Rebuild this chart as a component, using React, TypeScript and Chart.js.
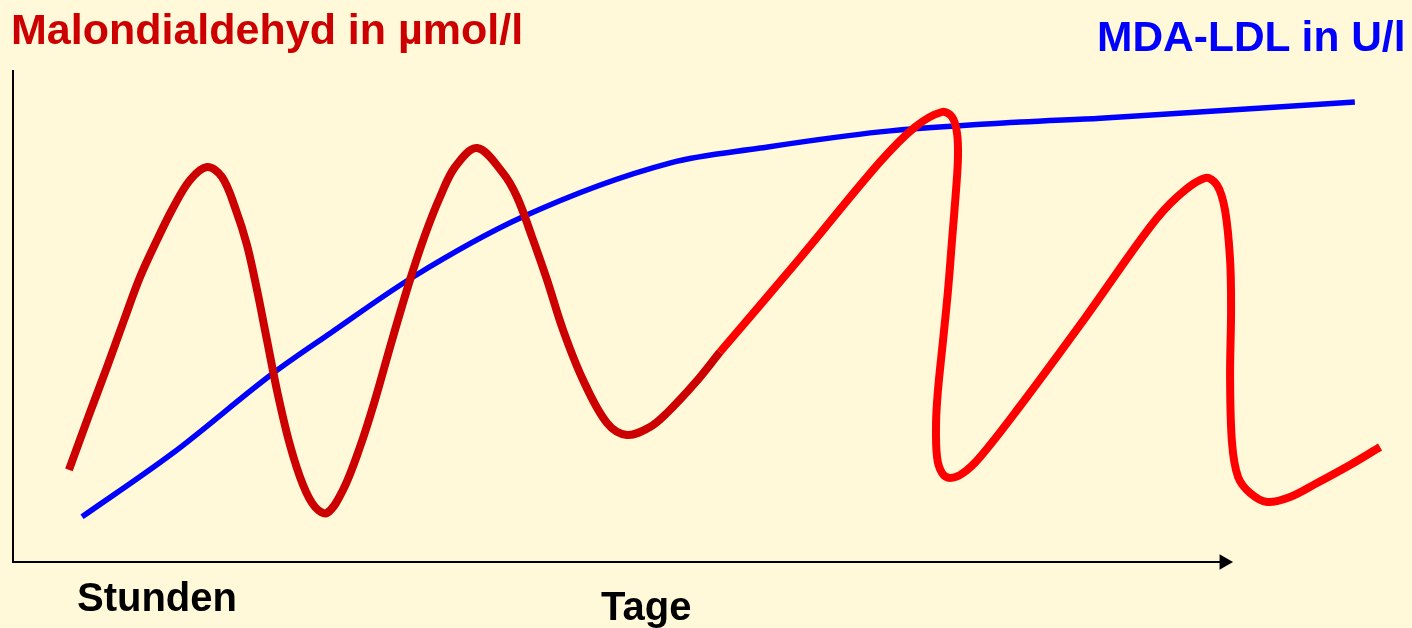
import React, { useEffect, useRef } from "react";
import { Chart, registerables } from "chart.js";

Chart.register(...registerables);

// ---- data (arbitrary units: x = time 0..100 along the axis, y = level 0..100) ----
const hoursX = [4.62, 6.19, 7.76, 9.17, 10.49, 11.89, 13.21, 14.62, 16.02, 17.26, 18.41, 19.32, 20.15, 20.97, 21.88, 22.87, 23.95, 24.94, 25.93, 27.25, 28.65, 29.89, 31.3, 32.78, 34.02, 35.26, 36.5, 38.32, 40.46, 41.62, 42.86, 44.1, 45.42, 47.07, 49.05, 50.7, 52.6, 54.0, 56.32, 58.38];
const hoursY = [18.74, 29.33, 39.71, 49.29, 58.04, 65.58, 72.1, 77.8, 80.45, 78.41, 71.69, 64.56, 55.4, 45.21, 34.01, 23.83, 15.68, 11.2, 9.98, 14.66, 23.42, 32.99, 45.21, 57.43, 66.6, 74.34, 80.45, 84.32, 79.23, 74.34, 66.19, 57.43, 47.25, 37.07, 28.31, 25.87, 27.49, 30.35, 36.46, 42.77];

const daysX = [58.38, 64.99, 71.59, 74.48, 76.71, 77.54, 77.95, 78.03, 77.87, 77.54, 77.21, 76.8, 76.38, 76.22, 76.3, 76.71, 77.37, 78.45, 79.85, 82.91, 88.52, 93.89, 96.12, 98.43, 99.42, 100.08, 100.5, 100.58, 100.5, 100.66, 101.16, 102.15, 103.55, 105.45, 107.68, 110.4, 112.88];
const daysY = [42.77, 61.91, 81.47, 88.59, 91.65, 90.63, 87.37, 82.48, 75.76, 65.58, 55.4, 45.21, 35.03, 28.31, 21.38, 18.13, 17.11, 18.13, 21.38, 30.96, 49.69, 68.23, 74.34, 78.21, 76.78, 71.69, 61.51, 51.32, 37.68, 24.24, 17.31, 14.05, 12.22, 13.24, 16.09, 19.76, 23.42];

const mdaLdlX = [5.7, 13.2, 21.5, 26.2, 33.0, 42.1, 54.3, 61.7, 71.6, 83.2, 89.8, 110.8];
const mdaLdlY = [9.2, 22.2, 38.5, 46.6, 58.0, 70.3, 81.3, 84.3, 87.6, 89.6, 90.4, 93.7];

const axisX = [0, 100];
const axisY = [0, 100];

const titleLeft = "Malondialdehyd in µmol/l";
const titleRight = "MDA-LDL in U/l";
const labelHours = "Stunden";
const labelDays = "Tage";

// ---- styling ----
const BG = "#FFF9DA";
const DARK_RED = "#CC0000";
const RED = "#FF0000";
const BLUE = "#0000FF";
const FONT = '"Liberation Sans", Arial, Helvetica, sans-serif';

const X_MIN = -1.0735;
const X_MAX = 115.52;
const Y_MIN = -13.44;
const Y_MAX = 114.46;

const pts = (xs: number[], ys: number[]) => xs.map((x, i) => ({ x, y: ys[i] }));

export default function App() {
  const ref = useRef<HTMLCanvasElement>(null);

  useEffect(() => {
    document.body.style.margin = "0";
    document.body.style.background = BG;
    const chart = new Chart(ref.current as HTMLCanvasElement, {
      type: "line",
      data: {
        datasets: [
          {
            label: "y-axis",
            data: [{ x: axisX[0], y: axisY[0] }, { x: axisX[0], y: axisY[1] }],
            borderColor: "#000",
            borderWidth: 2,
            borderCapStyle: "square",
            pointRadius: 0,
            tension: 0,
            order: 0,
          },
          {
            label: "x-axis",
            data: [{ x: axisX[0], y: axisY[0] }, { x: axisX[1], y: axisY[0] }],
            borderColor: "#000",
            borderWidth: 2,
            borderCapStyle: "square",
            pointRadius: [0, 9],
            pointStyle: "triangle",
            pointRotation: 90,
            pointBackgroundColor: "#000",
            pointBorderWidth: 0,
            tension: 0,
            order: 0,
          },
          {
            label: "Malondialdehyd (Stunden)",
            data: pts(hoursX, hoursY),
            borderColor: DARK_RED,
            borderWidth: 8,
            pointRadius: 0,
            tension: 0.35,
            order: 1,
          },
          {
            label: "Malondialdehyd (Tage)",
            data: pts(daysX, daysY),
            borderColor: RED,
            borderWidth: 8,
            pointRadius: 0,
            tension: 0.35,
            order: 1,
          },
          {
            label: "MDA-LDL",
            data: pts(mdaLdlX, mdaLdlY),
            borderColor: BLUE,
            borderWidth: 5.5,
            pointRadius: 0,
            cubicInterpolationMode: "monotone",
            order: 2,
          },
        ],
      },
      options: {
        responsive: false,
        animation: false,
        events: [],
        layout: { padding: 0, autoPadding: false },
        plugins: { legend: { display: false }, tooltip: { enabled: false } },
        scales: {
          x: { type: "linear", display: false, min: X_MIN, max: X_MAX },
          y: { type: "linear", display: false, min: Y_MIN, max: Y_MAX },
        },
      },
    } as any);
    return () => chart.destroy();
  }, []);

  const text = (s: string, left: number, top: number, size: number, color: string) => (
    <div
      style={{
        position: "absolute",
        left,
        top,
        fontFamily: FONT,
        fontWeight: "bold",
        fontSize: size,
        lineHeight: `${size}px`,
        color,
        whiteSpace: "nowrap",
      }}
    >
      {s}
    </div>
  );

  return (
    <div style={{ position: "fixed", left: 0, top: 0, width: 1412, height: 628, background: BG, overflow: "hidden" }}>
      <canvas ref={ref} width={1412} height={628} style={{ position: "absolute", left: 0, top: 0, width: 1412, height: 628 }} />
      {text(titleLeft, 11, 8, 43, DARK_RED)}
      {text(titleRight, 1097, 16, 42.5, BLUE)}
      {text(labelHours, 77, 577, 40, "#000")}
      {text(labelDays, 601, 586, 40, "#000")}
    </div>
  );
}
